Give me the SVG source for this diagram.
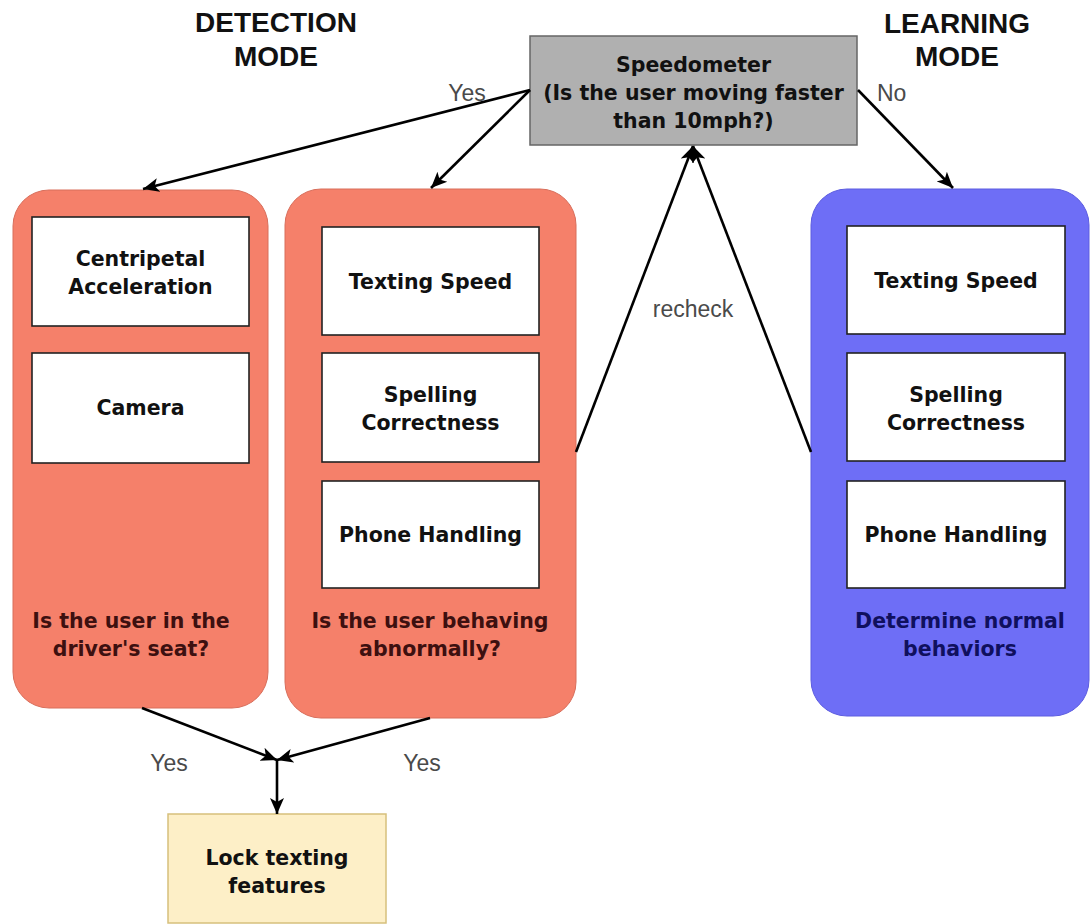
<svg xmlns="http://www.w3.org/2000/svg" width="1090" height="924" viewBox="0 0 1090 924">
<defs>
<marker id="arr" markerUnits="userSpaceOnUse" markerWidth="18" markerHeight="16" refX="16" refY="8" orient="auto">
<path d="M0,1 L16,8 L0,15 L4,8 Z" fill="#000"/>
</marker>
<style>
.head{font-family:"Liberation Sans",Arial,sans-serif;font-weight:bold;font-size:28px;fill:#111;text-anchor:middle}
.bt{font-family:"DejaVu Sans",Verdana,sans-serif;font-weight:bold;font-size:20.5px;fill:#111;text-anchor:middle}
.lbl{font-family:"Liberation Sans",Arial,sans-serif;font-size:23px;fill:#4a4a4a}
.red{fill:#f5806a;stroke:#d86e5b;stroke-width:1}
.blue{fill:#6e6ef6;stroke:#5c5ce0;stroke-width:1}
.inner{fill:#fff;stroke:#222;stroke-width:1.6}
.edge{stroke:#000;stroke-width:2.6;fill:none;marker-end:url(#arr)}
</style>
</defs>
<rect width="1090" height="924" fill="#fff"/>

<g id="detection-heading">
<text class="head" x="276" y="32">DETECTION</text>
<text class="head" x="276" y="66">MODE</text>
</g>
<g id="learning-heading">
<text class="head" x="957" y="33">LEARNING</text>
<text class="head" x="957" y="66">MODE</text>
</g>

<g id="speedometer">
<rect x="530" y="36" width="327" height="109" fill="#b0b0b0" stroke="#666" stroke-width="1.5"/>
<text class="bt" x="693.5" y="72">Speedometer</text>
<text class="bt" x="693.5" y="100">(Is the user moving faster</text>
<text class="bt" x="693.5" y="128">than 10mph?)</text>
</g>

<g id="driver-seat">
<rect class="red" x="13" y="190" width="255" height="518" rx="36"/>
<text class="bt" x="131" y="628" fill="#3d1010" style="fill:#3d1010">Is the user in the</text>
<text class="bt" x="131" y="656" style="fill:#3d1010">driver's seat?</text>
</g>
<g id="centripetal">
<rect class="inner" x="32" y="217" width="217" height="109"/>
<text class="bt" x="140.5" y="266">Centripetal</text>
<text class="bt" x="140.5" y="294">Acceleration</text>
</g>
<g id="camera">
<rect class="inner" x="32" y="353" width="217" height="110"/>
<text class="bt" x="140.5" y="415">Camera</text>
</g>

<g id="behaving">
<rect class="red" x="285" y="189" width="291" height="529" rx="36"/>
<text class="bt" x="430" y="628" style="fill:#3d1010">Is the user behaving</text>
<text class="bt" x="430" y="656" style="fill:#3d1010">abnormally?</text>
</g>
<g id="texting-speed-d">
<rect class="inner" x="322" y="227" width="217" height="108"/>
<text class="bt" x="430.5" y="289">Texting Speed</text>
</g>
<g id="spelling-d">
<rect class="inner" x="322" y="353" width="217" height="109"/>
<text class="bt" x="430.5" y="402">Spelling</text>
<text class="bt" x="430.5" y="430">Correctness</text>
</g>
<g id="phone-d">
<rect class="inner" x="322" y="481" width="217" height="107"/>
<text class="bt" x="430.5" y="542">Phone Handling</text>
</g>

<g id="normal">
<rect class="blue" x="811" y="189" width="278" height="527" rx="36"/>
<text class="bt" x="960" y="628" style="fill:#10105e">Determine normal</text>
<text class="bt" x="960" y="656" style="fill:#10105e">behaviors</text>
</g>
<g id="texting-speed-l">
<rect class="inner" x="847" y="226" width="218" height="108"/>
<text class="bt" x="956" y="288">Texting Speed</text>
</g>
<g id="spelling-l">
<rect class="inner" x="847" y="353" width="218" height="108"/>
<text class="bt" x="956" y="402">Spelling</text>
<text class="bt" x="956" y="430">Correctness</text>
</g>
<g id="phone-l">
<rect class="inner" x="847" y="481" width="218" height="107"/>
<text class="bt" x="956" y="542">Phone Handling</text>
</g>

<g id="lock">
<rect x="168" y="814" width="218" height="109" fill="#fdefc7" stroke="#d6c07c" stroke-width="1.5"/>
<text class="bt" x="277" y="865">Lock texting</text>
<text class="bt" x="277" y="893">features</text>
</g>

<g id="connectors">
<line class="edge" x1="530" y1="90" x2="143" y2="189"/>
<line class="edge" x1="530" y1="90" x2="431" y2="188"/>
<line class="edge" x1="858" y1="90" x2="953" y2="188"/>
<line class="edge" x1="576" y1="452" x2="693" y2="146"/>
<line class="edge" x1="811" y1="452" x2="693" y2="146"/>
<line class="edge" x1="142" y1="708" x2="277" y2="760"/>
<line class="edge" x1="430" y1="718" x2="277" y2="760"/>
<line class="edge" x1="277" y1="760" x2="277" y2="814"/>
<text class="lbl" x="467" y="101" text-anchor="middle">Yes</text>
<text class="lbl" x="877" y="101">No</text>
<text class="lbl" x="693" y="317" text-anchor="middle">recheck</text>
<text class="lbl" x="169" y="771" text-anchor="middle">Yes</text>
<text class="lbl" x="422" y="771" text-anchor="middle">Yes</text>
</g>
</svg>
